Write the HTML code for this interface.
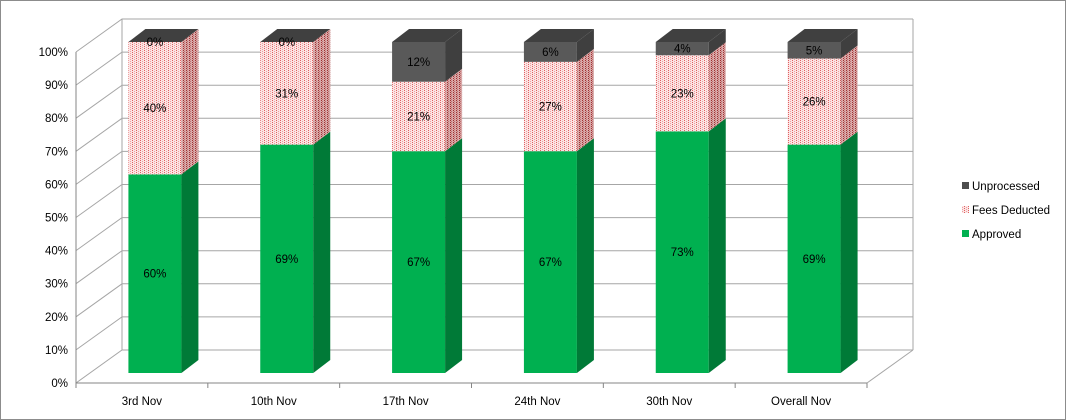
<!DOCTYPE html>
<html><head><meta charset="utf-8"><style>
body{margin:0;background:#fff}
svg{display:block;font-family:"Liberation Sans",sans-serif}
</style></head><body>
<svg id="chart" width="1066" height="420" viewBox="0 0 1066 420">
<defs>
<pattern id="fees" width="4" height="2" patternUnits="userSpaceOnUse">
<rect width="4" height="2" fill="#fbe4e4"/><rect x="0" y="0" width="1" height="1" fill="#e06060"/><rect x="2" y="1" width="1" height="1" fill="#f0a0a0"/>
</pattern>
<pattern id="feesSide" width="3" height="2" patternUnits="userSpaceOnUse">
<rect width="3" height="2" fill="#d8a8a8"/><rect x="0" y="0" width="1" height="1" fill="#a03030"/><rect x="1" y="1" width="1" height="1" fill="#c07070"/>
</pattern>
</defs>
<rect x="0.5" y="0.5" width="1065" height="419" fill="#fff" stroke="#8c8c8c"/>
<g id="grid"></g>
<g id="bars"></g>
<g id="labels"></g>
<g font-size="11.5">
<g><rect x="962" y="182" width="7" height="7" fill="#4d4d4d"/><text x="972" y="190">Unprocessed</text></g>
<g><rect x="962" y="206" width="7" height="7" fill="url(#fees)"/><text x="972" y="214">Fees Deducted</text></g>
<g><rect x="962" y="230" width="7" height="7" fill="#00b050"/><text x="972" y="238">Approved</text></g>
</g>
</svg>
<script>
const categories=["3rd Nov","10th Nov","17th Nov","24th Nov","30th Nov","Overall Nov"];
const approved=[60,69,67,67,73,69];
const feesDeducted=[40,31,21,27,23,26];
const unprocessed=[0,0,12,6,4,5];
const yTicks=[0,10,20,30,40,50,60,70,80,90,100];

const NS="http://www.w3.org/2000/svg";
const X0=76,X1=867,Y0=383,Y100=52,DX=46,DY=33;
const catW=(X1-X0)/categories.length;
const yF=v=>Y0-(v/100)*(Y0-Y100);
const xC=i=>X0+catW*(i+0.5);
function mk(tag,attrs,parent){const e=document.createElementNS(NS,tag);for(const k in attrs)e.setAttribute(k,attrs[k]);parent.appendChild(e);return e;}
const grid=document.getElementById('grid'),bars=document.getElementById('bars'),labels=document.getElementById('labels');
// back wall & side wall
yTicks.forEach(t=>{
  const y=yF(t);
  const l=mk('polyline',{points:`${X0},${y} ${X0+DX},${y-DY} ${X1+DX},${y-DY}`,fill:'none',stroke:'#a6a6a6','stroke-width':1},grid);
  
  
  const tx=mk('text',{x:X0-8,y:y+4,'text-anchor':'end','font-size':11.5,fill:'#000'},labels);
  tx.textContent=t+'%';
  
  
});
mk('line',{x1:X0+DX,y1:Y100-DY,x2:X0+DX,y2:Y0-DY,stroke:'#a6a6a6'},grid);
mk('line',{x1:X1+DX,y1:Y100-DY,x2:X1+DX,y2:Y0-DY,stroke:'#a6a6a6'},grid);
mk('line',{x1:X1,y1:Y0,x2:X1+DX,y2:Y0-DY,stroke:'#a6a6a6'},grid);
const ax=mk('line',{x1:X0,y1:Y100,x2:X0,y2:Y0,stroke:'#868686'},grid);


const xa=mk('line',{x1:X0,y1:Y0,x2:X1,y2:Y0,stroke:'#868686'},grid);


for(let i=0;i<=categories.length;i++){const x=X0+catW*i;mk('line',{x1:x,y1:Y0,x2:x,y2:Y0+5,stroke:'#868686'},grid);}
// bars
const bw=53,bdx=17,bdy=13,offX=13,offY=10;
const series=[
 {name:'approved',vals:approved,front:'#00b050',side:'#007a37',top:'#00b050'},
 {name:'fees-deducted',vals:feesDeducted,front:'url(#fees)',side:'url(#feesSide)',top:'#f2caca'},
 {name:'unprocessed',vals:unprocessed,front:'#595959',side:'#3f3f3f',top:'#404040'}];
categories.forEach((c,i)=>{
  const cx=xC(i)+offX, xl=cx-bw/2, xr=cx+bw/2;
  const by=v=>yF(v)-offY;
  let base=0;
  const g=mk('g',{},bars);
  
  
  series.forEach((s,si)=>{
    const v=s.vals[i], yb=by(base), yt=by(base+v);
    const seg=mk('g',{},g);
    
    
    if(v>0){
      mk('rect',{x:xl,y:yt,width:bw,height:yb-yt,fill:s.front},seg);
      mk('polygon',{points:`${xr},${yb} ${xr+bdx},${yb-bdy} ${xr+bdx},${yt-bdy} ${xr},${yt}`,fill:s.side},seg);
    }
    if(si===series.length-1){
      mk('polygon',{points:`${xl},${yt} ${xl+bdx},${yt-bdy} ${xr+bdx},${yt-bdy} ${xr},${yt}`,fill:s.top},seg);
    }
    const t=mk('text',{x:cx,y:(yb+yt)/2+4,'text-anchor':'middle','font-size':11.5,fill:'#000'},labels);
    t.textContent=v+'%';
    
    
    base+=v;
  });
  const xt=mk('text',{x:xC(i),y:405,'text-anchor':'middle','font-size':11.5,fill:'#000'},labels);
  xt.textContent=c;
  
  
});
</script>
</body></html>
